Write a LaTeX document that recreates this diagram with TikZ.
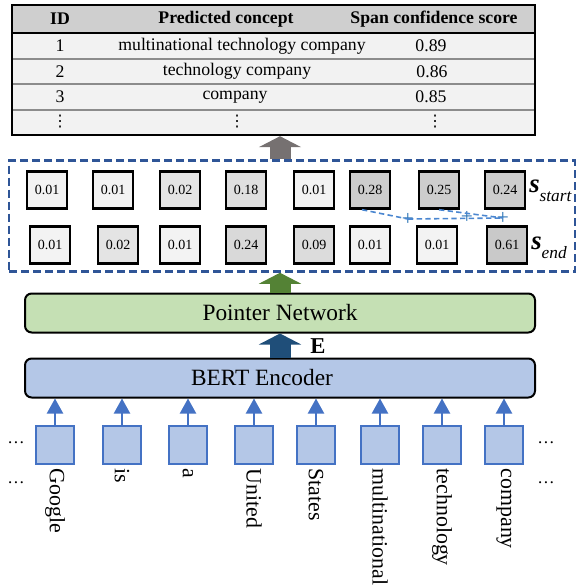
\documentclass[tikz,border=0pt]{standalone}
\usepackage{fontspec}
\setmainfont{Liberation Serif}
\newfontfamily\djv{DejaVu Sans}
\usetikzlibrary{arrows.meta}
\definecolor{hdr}{HTML}{CFCFCF}
\definecolor{rowc}{HTML}{F2F2F2}
\definecolor{sepc}{HTML}{8C8C8C}
\definecolor{c01}{HTML}{F3F3F3}
\definecolor{c02}{HTML}{E4E4E4}
\definecolor{c18}{HTML}{DFDFDF}
\definecolor{c24}{HTML}{D9D9D9}
\definecolor{c09}{HTML}{DCDCDC}
\definecolor{c28}{HTML}{CDCDCD}
\definecolor{c61}{HTML}{C9C9C9}
\definecolor{dashc}{HTML}{2F5597}
\definecolor{linkc}{HTML}{4A86D0}
\definecolor{plusc}{HTML}{2E75B6}
\definecolor{garrow}{HTML}{767171}
\definecolor{greenarrow}{HTML}{548235}
\definecolor{greenfill}{HTML}{C5E0B4}
\definecolor{bluearrow}{HTML}{1F4E79}
\definecolor{bluefill}{HTML}{B4C7E7}
\definecolor{blueline}{HTML}{4472C4}
\tikzset{
  tabtext/.style={inner sep=0pt, font=\fontsize{13.3}{15}\selectfont},
  tabhead/.style={inner sep=0pt, font=\fontsize{13.3}{15}\selectfont\bfseries},
  vdot/.style={inner sep=0pt, font=\djv\fontsize{12}{12}\selectfont},
  valbox/.style={draw=black, line width=1.8pt, minimum width=40*0.75pt, minimum height=37*0.75pt, inner sep=0pt, font=\fontsize{10.5}{12}\selectfont},
  layerbox/.style={draw=black, line width=1.5pt, rounded corners=5pt, minimum width=510*0.75pt, minimum height=39*0.75pt, inner sep=0pt},
  insq/.style={draw=blueline, fill=bluefill, line width=1.7pt, minimum width=38*0.75pt, minimum height=38*0.75pt, inner sep=0pt},
  inarrow/.style={draw=blueline, line width=1.6pt, -{Triangle[length=15*0.75pt, width=16*0.75pt]}},
  word/.style={rotate=-90, anchor=west, inner sep=0pt, font=\fontsize{16.4}{16.4}\selectfont},
  link/.style={draw=linkc, line width=1.2pt, dash pattern=on 4pt off 2.5pt},
  plus/.style={text=plusc, inner sep=0pt, font=\fontsize{16}{16}\selectfont},
  fatarrow/.style={line width=21*0.75pt, -{Triangle[length=11*0.75pt, width=42*0.75pt]}},
  dots/.style={inner sep=0pt, font=\fontsize{13}{13}\selectfont},
}
\begin{document}
\begin{tikzpicture}[x=0.75pt,y=-0.75pt]
\useasboundingbox (0,0) rectangle (582,588);
% ---------- table ----------
\fill[hdr] (12,5) rectangle (535,33);
\fill[rowc] (12,33) rectangle (535,135);
\foreach \yy in {59,84,110} \draw[sepc, line width=0.9pt] (12,\yy) -- (535,\yy);
\draw[black, line width=1.5pt] (12,33) -- (535,33);
\node[draw=black, line width=1.8pt, minimum width=523*0.75pt, minimum height=130*0.75pt, inner sep=0pt] (tbl) at (273.5,70) {};
\node[tabhead] (hid) at (60,19) {ID};
\node[tabhead] (hpc) at (226,19) {Predicted concept};
\node[tabhead] (hsc) at (434,19) {Span confidence score};
\node[tabtext] (id1) at (60,46) {1};
\node[tabtext] (pc1) at (242,46) {multinational technology company};
\node[tabtext] (sc1) at (431,46) {0.89};
\node[tabtext] (id2) at (60,71.5) {2};
\node[tabtext] (pc2) at (237,71.5) {technology company};
\node[tabtext] (sc2) at (432,71.5) {0.86};
\node[tabtext] (id3) at (60,97) {3};
\node[tabtext] (pc3) at (235,97) {company};
\node[tabtext] (sc3) at (431,97) {0.85};
\node[vdot] (id4) at (60,122) {⋮};
\node[vdot] (pc4) at (237,122) {⋮};
\node[vdot] (sc4) at (435,122) {⋮};
% ---------- score boxes ----------
\node[draw=dashc, line width=1.9pt, dash pattern=on 6pt off 3pt, minimum width=566*0.75pt, minimum height=111*0.75pt, inner sep=0pt] (dbox) at (292,216) {};
\foreach \xx/\vv/\cc [count=\i] in {47/0.01/c01, 113/0.01/c01, 180/0.02/c02, 246/0.18/c18, 314/0.01/c01, 370/0.28/c28, 439/0.25/c28, 505/0.24/c28}
  \node[valbox, fill=\cc] (s\i) at (\xx,190) {\vv};
\foreach \xx/\vv/\cc [count=\i] in {50/0.01/c01, 118/0.02/c02, 180/0.01/c01, 246/0.24/c24, 314/0.09/c09, 370/0.01/c01, 437/0.01/c01, 507/0.61/c61}
  \node[valbox, fill=\cc] (e\i) at (\xx,245) {\vv};
\node[inner sep=0pt, anchor=west] (sstart) at (529,191) {\fontsize{20}{20}\selectfont\bfseries\itshape s\raisebox{-0.35em}{\fontsize{13}{13}\selectfont\mdseries start}};
\node[inner sep=0pt, anchor=west] (send) at (531,248) {\fontsize{20}{20}\selectfont\bfseries\itshape s\raisebox{-0.35em}{\fontsize{13}{13}\selectfont\mdseries end}};
\node[plus] (p1) at (408,219) {+};
\node[plus] (p2) at (467,217) {+};
\node[plus] (p3) at (503,218) {+};
\draw[link] ([xshift=-6pt]s6.south) -- (p1.center);
\draw[link] (p1.center) -- (p3.center);
\draw[link] (s7.south) -- (p3.center);
% ---------- layers ----------
\node[layerbox, fill=greenfill, font=\fontsize{17.5}{18}\selectfont] (pn) at (280,313) {Pointer Network};
\node[layerbox, fill=bluefill] (bert) at (280,378) {};
\node[inner sep=0pt, font=\fontsize{17.5}{18}\selectfont] (berttext) at (262,378) {BERT Encoder};
\node[inner sep=0pt, font=\fontsize{17}{17}\selectfont\bfseries] (elab) at (318,346) {E};
\draw[fatarrow, garrow] (pn.north |- dbox.north) -- (pn.north |- tbl.south);
\draw[fatarrow, greenarrow] (pn.north) -- (pn.north |- dbox.south);
\draw[fatarrow, bluearrow] (bert.north) -- (pn.south);
% ---------- inputs ----------
\foreach \xx/\ww [count=\i] in {55/Google, 122/is, 188/a, 254/United, 316/States, 380/multinational, 442/technology, 504/company}{
  \node[insq] (w\i) at (\xx,445) {};
  \draw[inarrow] (w\i.north) -- (w\i.north |- bert.south);
  \node[word] (t\i) at ([yshift=-2.5pt]w\i.south) {\ww};
}
\node[dots] (dl1) at (16,443) {…};
\node[dots] (dl2) at (16,483) {…};
\node[dots] (dr1) at (546,443) {…};
\node[dots] (dr2) at (546,483) {…};
\end{tikzpicture}
\end{document}
